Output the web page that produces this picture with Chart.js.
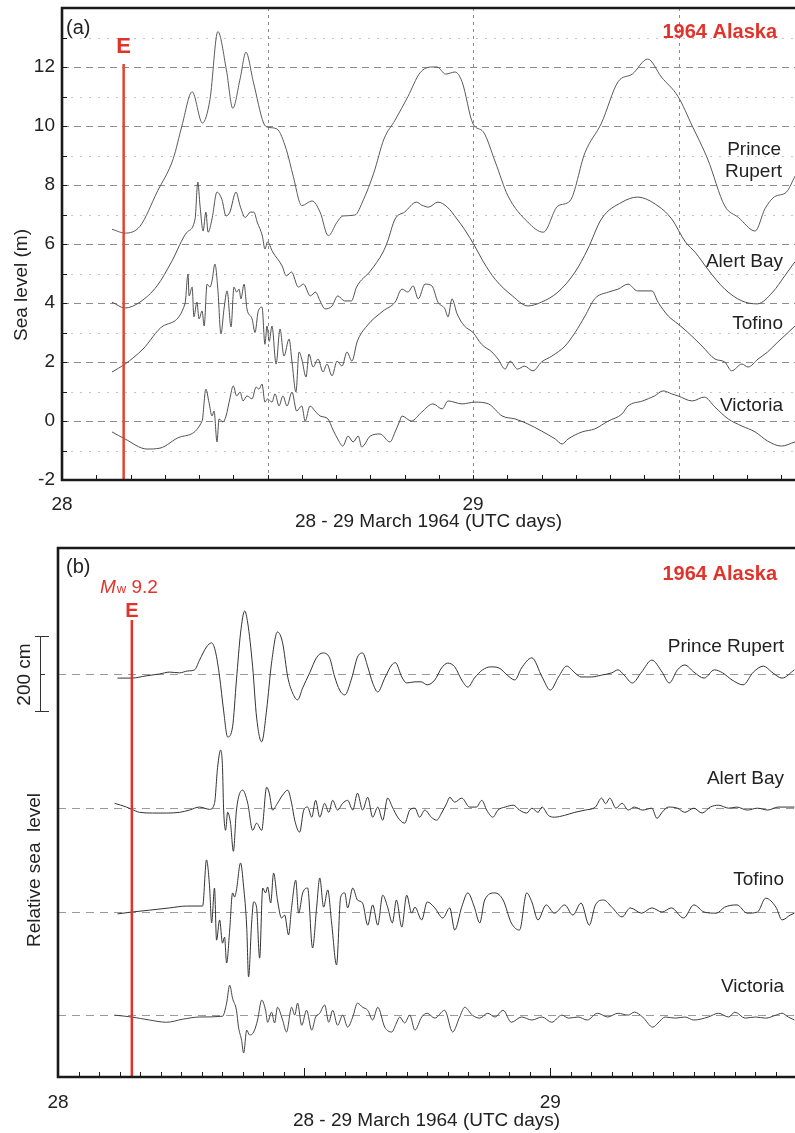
<!DOCTYPE html>
<html>
<head>
<meta charset="utf-8">
<title>1964 Alaska tsunami - BC tide gauges</title>
<script src="https://cdn.jsdelivr.net/npm/chart.js@4.4.1/dist/chart.umd.min.js"></script>
<style>
  body { margin: 0; background: #fff; overflow: hidden; }
  #panelA { position: absolute; left: 0; top: 0; }
  #panelB { position: absolute; left: 0; top: 540px; }
</style>
</head>
<body>
<canvas id="panelA" width="795" height="540"></canvas>
<canvas id="panelB" width="795" height="593"></canvas>
<script>
// time axis is in hours after 28 March 1964 00:00 UTC
const dayTickHours = [0, 24];
const dayTickLabels = ["28", "29"];
const eventHour = 3.6; // main shock, 03:36 UTC
const stationNames = ["Prince Rupert", "Alert Bay", "Tofino", "Victoria"];

// (a) observed sea level, metres
const prTimeA = [2.92, 3.68, 4.55, 5.55, 6.5, 7.0, 7.6, 8.2, 8.64, 9.1, 9.6, 9.97, 10.4, 10.74, 11.17, 11.77, 12.0, 12.55, 13.1, 13.5, 14.0, 14.6, 15.07, 15.55, 16.05, 16.4, 17.1, 17.6, 18.2, 18.8, 19.45, 20.2, 20.9, 21.6, 21.9, 22.4, 22.95, 23.36, 24.0, 24.6, 25.3, 26.04, 27.2, 28.1, 28.96, 29.66, 30.54, 31.5, 32.47, 33.3, 34.2, 35.0, 35.97, 36.8, 37.7, 38.7, 39.5, 40.47, 41.05, 41.6, 42.3, 42.8];
const prLevelA = [6.5, 6.37, 6.6, 7.76, 8.9, 10.0, 11.16, 10.1, 10.9, 13.2, 11.9, 10.6, 11.6, 12.5, 11.5, 10.1, 9.96, 9.9, 9.2, 8.3, 7.3, 7.46, 7.08, 6.28, 6.73, 6.95, 6.98, 7.5, 8.4, 9.56, 10.2, 11.0, 11.8, 12.0, 12.0, 11.76, 11.83, 11.5, 10.07, 9.8, 8.78, 7.63, 6.74, 6.4, 7.29, 7.46, 9.1, 10.1, 11.5, 11.76, 12.27, 11.66, 11.0, 10.0, 8.88, 7.29, 6.9, 6.44, 7.2, 7.6, 7.76, 8.3];

const abTimeA = [2.92, 3.68, 4.55, 5.55, 6.4, 7.3, 7.77, 7.93, 8.06, 8.24, 8.4, 8.53, 8.76, 9.05, 9.34, 9.58, 9.8, 10.16, 10.4, 10.7, 11.0, 11.2, 11.4, 11.7, 11.85, 12.0, 12.3, 12.85, 13.1, 13.4, 13.8, 14.1, 14.5, 14.8, 15.07, 15.36, 15.77, 16.1, 16.5, 16.9, 17.2, 18.0, 18.75, 19.0, 19.45, 20.0, 20.7, 21.0, 21.4, 21.95, 22.5, 23.06, 23.5, 24.1, 24.6, 25.3, 26.3, 27.2, 28.0, 28.96, 29.96, 30.7, 31.5, 32.7, 33.6, 34.8, 35.6, 36.4, 37.0, 37.7, 38.7, 39.7, 40.6, 41.5, 42.2, 42.8];
const abLevelA = [4.03, 3.83, 4.03, 4.58, 5.4, 6.4, 6.85, 8.1, 7.29, 6.44, 7.08, 6.4, 6.85, 7.76, 7.5, 6.95, 7.08, 7.76, 7.29, 6.9, 7.08, 7.08, 6.74, 6.27, 5.83, 6.07, 5.73, 5.26, 4.92, 5.05, 4.54, 4.64, 4.24, 4.37, 4.07, 3.8, 3.9, 4.24, 4.07, 4.07, 4.54, 5.08, 5.73, 6.07, 6.85, 7.08, 7.42, 7.32, 7.25, 7.42, 7.25, 6.85, 6.5, 5.93, 5.4, 4.8, 4.24, 3.9, 4.03, 4.37, 5.05, 5.83, 6.85, 7.42, 7.59, 7.29, 6.85, 6.07, 5.7, 5.15, 4.47, 4.07, 3.97, 4.37, 4.92, 5.4];

const toTimeA = [2.92, 3.68, 4.73, 5.9, 7.18, 7.36, 7.42, 7.6, 7.7, 7.88, 8.0, 8.18, 8.3, 8.47, 8.64, 8.76, 8.93, 9.1, 9.28, 9.46, 9.64, 9.87, 10.04, 10.2, 10.34, 10.45, 10.63, 10.8, 11.1, 11.27, 11.45, 11.68, 11.85, 11.97, 12.1, 12.26, 12.5, 12.73, 12.96, 13.26, 13.43, 13.66, 13.84, 14.0, 14.25, 14.42, 14.66, 14.95, 15.24, 15.47, 15.77, 16.06, 16.35, 16.64, 16.93, 17.23, 17.8, 18.75, 19.45, 19.85, 20.2, 20.5, 20.8, 21.2, 21.6, 21.95, 22.36, 22.54, 22.77, 23.07, 23.5, 24.0, 24.5, 25.1, 25.46, 25.87, 26.16, 26.6, 27.0, 27.5, 28.0, 28.6, 29.37, 29.96, 30.54, 31.1, 31.9, 32.47, 33.05, 33.6, 34.45, 34.8, 35.4, 35.97, 36.55, 37.37, 38.13, 38.7, 39.1, 39.7, 40.06, 40.64, 41.2, 41.8, 42.4, 42.8];
const toLevelA = [1.66, 1.93, 2.44, 3.22, 3.97, 4.98, 4.24, 4.54, 3.53, 4.03, 3.46, 3.73, 3.22, 4.64, 4.54, 4.75, 5.32, 4.47, 2.95, 3.8, 4.41, 3.19, 4.54, 4.37, 4.47, 4.14, 4.64, 3.8, 3.46, 3.0, 3.7, 3.86, 2.6, 3.22, 2.7, 3.22, 1.93, 3.12, 2.2, 2.78, 2.0, 0.98, 2.34, 2.1, 1.49, 2.27, 1.83, 2.1, 1.66, 1.93, 1.53, 2.03, 1.86, 2.34, 2.03, 2.68, 3.22, 3.73, 4.03, 4.47, 4.37, 4.58, 4.14, 4.64, 4.58, 4.03, 3.8, 3.53, 4.14, 3.63, 3.22, 3.0, 2.6, 2.34, 2.1, 1.76, 2.03, 1.76, 1.86, 1.7, 2.0, 2.2, 2.54, 3.0, 3.56, 4.14, 4.37, 4.47, 4.64, 4.41, 4.41, 4.03, 3.56, 3.29, 3.0, 2.54, 2.1, 2.0, 1.7, 1.93, 1.83, 2.1, 2.34, 2.68, 3.0, 3.22];

const viTimeA = [2.92, 3.68, 4.96, 5.72, 6.9, 8.18, 8.4, 8.58, 8.76, 8.88, 9.05, 9.17, 9.4, 9.58, 9.8, 10.0, 10.2, 10.4, 10.57, 10.8, 11.1, 11.33, 11.5, 11.68, 11.85, 12.0, 12.26, 12.44, 12.67, 12.9, 13.14, 13.43, 13.7, 14.0, 14.2, 14.48, 14.77, 15.07, 15.53, 15.8, 16.1, 16.4, 16.7, 17.0, 17.3, 17.5, 18.0, 18.57, 19.15, 19.45, 19.7, 19.85, 20.4, 21.0, 21.66, 22.2, 22.54, 23.36, 24.1, 24.9, 25.7, 26.45, 27.2, 28.0, 28.8, 29.2, 29.55, 30.37, 31.1, 31.9, 32.7, 33.05, 33.9, 34.6, 35.1, 35.6, 35.97, 36.8, 37.5, 38.13, 38.9, 39.7, 40.47, 41.2, 42.0, 42.8];
const viLevelA = [-0.37, -0.61, -0.95, -0.92, -0.54, 0.0, 1.08, 0.64, 0.17, 0.34, -0.71, 0.07, -0.03, 0.17, 0.75, 1.19, 0.85, 0.98, 0.68, 0.85, 0.75, 1.15, 1.08, 1.25, 0.64, 0.75, 0.64, 0.92, 0.51, 0.85, 0.51, 0.98, 0.34, 0.51, 0.0, 0.51, 0.34, 0.17, 0.07, -0.27, -0.61, -0.85, -0.51, -0.71, -0.51, -0.88, -0.51, -0.44, -0.71, -0.37, -0.03, 0.17, 0.0, 0.3, 0.58, 0.41, 0.68, 0.58, 0.64, 0.58, 0.17, 0.07, -0.1, -0.34, -0.61, -0.78, -0.61, -0.37, -0.27, 0.0, 0.24, 0.51, 0.68, 0.85, 1.02, 0.92, 0.85, 0.68, 0.81, 0.47, 0.07, -0.17, -0.37, -0.68, -0.85, -0.71];

// (b) de-tided records, cm, stacked on the offsets below
const offsetsB = [1075, 717, 440, 165];

const prTimeB = [2.9, 3.59, 4.3, 4.95, 5.44, 5.93, 6.32, 6.66, 6.9, 7.24, 7.49, 7.68, 7.88, 8.07, 8.27, 8.51, 8.7, 8.9, 9.1, 9.25, 9.49, 9.68, 9.93, 10.17, 10.41, 10.7, 10.95, 11.2, 11.44, 11.68, 11.93, 12.27, 12.6, 12.9, 13.24, 13.49, 13.73, 13.98, 14.32, 14.6, 14.85, 15.1, 15.34, 15.59, 15.93, 16.27, 16.45, 16.76, 17.0, 17.4, 17.7, 18.0, 18.37, 18.7, 19.0, 19.34, 19.68, 19.98, 20.3, 20.7, 21.1, 21.5, 21.9, 22.27, 22.6, 23.1, 23.6, 24.0, 24.4, 24.8, 25.2, 25.5, 26.0, 26.5, 27.0, 27.3, 27.6, 28.0, 28.45, 28.95, 29.45, 29.8, 30.2, 30.56, 31.0, 31.5, 32.0, 32.4, 32.86, 33.4, 33.9, 34.4, 34.8, 35.3, 35.9];
const prRelB = [-11, -11, -5, 0, 5, 3, 8, 11, 37, 72, 83, 59, -8, -96, -168, -141, -16, 109, 168, 136, 19, -115, -181, -96, 29, 112, 83, -8, -51, -69, -37, 3, 43, 56, 43, -8, -43, -56, -11, 45, 56, 19, -24, -48, -11, 24, 30, -8, -24, -21, -21, -29, -16, 16, 29, 19, -16, -35, -11, 11, 19, 16, -3, -16, 16, 43, -8, -43, -8, 21, 3, -8, -8, -3, 3, 11, -3, -24, 5, 37, 5, -24, 11, 24, 5, -11, 11, 3, -16, -29, 5, 21, 5, -11, 11];

const abTimeB = [2.76, 3.34, 3.59, 3.98, 4.61, 5.29, 5.93, 6.41, 6.9, 7.39, 7.63, 7.78, 7.93, 8.02, 8.07, 8.17, 8.27, 8.41, 8.55, 8.7, 9.0, 9.25, 9.49, 9.68, 9.93, 10.17, 10.3, 10.46, 10.7, 10.95, 11.2, 11.39, 11.54, 11.78, 11.98, 12.17, 12.37, 12.56, 12.76, 13.0, 13.2, 13.39, 13.63, 13.88, 14.12, 14.37, 14.6, 14.85, 15.1, 15.34, 15.59, 15.83, 16.07, 16.3, 16.56, 16.9, 17.15, 17.4, 17.63, 17.88, 18.2, 18.46, 18.7, 18.95, 19.1, 19.34, 19.68, 20.07, 20.4, 20.66, 20.9, 21.2, 21.45, 21.8, 22.2, 22.5, 22.85, 23.1, 23.4, 23.6, 23.9, 24.2, 24.7, 25.2, 25.7, 26.2, 26.5, 26.7, 26.9, 27.2, 27.5, 27.8, 28.1, 28.5, 28.95, 29.2, 29.45, 29.75, 30.2, 30.56, 31.0, 31.4, 31.8, 32.2, 32.7, 33.1, 33.6, 34.1, 34.6, 35.1, 35.6, 35.9];
const abRelB = [13, 3, -3, -11, -13, -13, -11, -5, 3, -3, 13, 109, 155, 109, 3, -59, -11, -40, -115, -5, 48, 13, -59, -40, -59, 56, 40, -5, 13, 35, 48, 13, -32, -64, -5, 3, -24, 21, -24, 13, -11, 21, -5, 13, 21, -5, 40, -5, 29, -24, 3, -32, 27, 3, -24, -40, -5, 0, -24, -5, -24, -32, -13, 13, 29, 16, 27, 3, 3, 21, -5, -24, -5, 3, 8, -5, -13, 0, -11, 3, -19, -24, -19, -11, -5, 3, 27, 12, 27, 0, 13, -5, 3, -5, 0, -27, -11, 3, 0, -11, 0, -13, 3, 8, 0, 3, -5, 0, -5, 3, 3, 3];

const toTimeB = [2.9, 3.59, 4.46, 5.44, 6.27, 7.05, 7.24, 7.39, 7.49, 7.63, 7.73, 7.88, 8.02, 8.12, 8.22, 8.37, 8.51, 8.61, 8.7, 8.9, 9.05, 9.2, 9.29, 9.44, 9.54, 9.68, 9.83, 9.98, 10.12, 10.22, 10.37, 10.51, 10.7, 10.9, 11.05, 11.24, 11.39, 11.59, 11.73, 11.93, 12.17, 12.41, 12.61, 12.76, 12.95, 13.15, 13.34, 13.58, 13.78, 13.98, 14.12, 14.37, 14.6, 14.85, 15.1, 15.34, 15.59, 15.83, 16.07, 16.3, 16.5, 16.76, 17.0, 17.24, 17.4, 17.73, 18.0, 18.37, 18.76, 19.1, 19.34, 19.68, 19.98, 20.3, 20.56, 20.8, 21.3, 21.7, 22.1, 22.5, 22.85, 23.1, 23.4, 23.8, 24.2, 24.7, 25.1, 25.5, 25.9, 26.2, 26.6, 27.0, 27.5, 27.9, 28.45, 28.95, 29.45, 29.9, 30.5, 31.0, 31.5, 32.1, 32.5, 33.1, 33.6, 34.1, 34.5, 35.0, 35.3, 35.7, 35.9];
const toRelB = [-5, 0, 5, 11, 16, 16, 139, 67, -29, 64, -75, -21, -83, -67, -136, -48, 51, 40, 59, 131, 67, -40, -173, -29, 27, 13, -123, 64, 51, 67, 24, 104, 32, -16, -8, -61, 13, 85, -3, 51, 64, -96, 13, 91, 13, 59, -29, -141, 40, 51, 11, 64, 32, 24, -35, 19, -35, 45, 13, -29, 32, -40, 45, -3, 13, -21, 27, 11, -16, 11, -48, 13, 51, 13, -29, 32, 51, 32, -29, -48, 51, 27, -21, 19, -3, 19, -8, 24, -35, 19, 32, 13, -13, 11, -3, 11, 0, 11, -16, 19, 0, -3, 13, 19, -3, 0, 37, 13, -21, -8, -3];

const viTimeB = [2.76, 3.59, 4.46, 5.29, 6.07, 6.9, 8.02, 8.22, 8.37, 8.51, 8.7, 8.8, 8.95, 9.05, 9.2, 9.34, 9.54, 9.73, 9.93, 10.12, 10.22, 10.41, 10.56, 10.7, 10.95, 11.14, 11.39, 11.54, 11.68, 11.88, 12.12, 12.37, 12.56, 12.76, 13.0, 13.2, 13.39, 13.63, 13.88, 14.12, 14.37, 14.6, 14.85, 15.1, 15.34, 15.59, 15.93, 16.27, 16.5, 16.66, 16.9, 17.15, 17.4, 17.73, 18.0, 18.37, 18.85, 19.24, 19.58, 19.83, 20.2, 20.56, 20.95, 21.3, 21.7, 22.1, 22.6, 23.1, 23.6, 24.07, 24.56, 24.9, 25.35, 25.8, 26.3, 26.8, 27.3, 27.8, 28.1, 28.5, 29.0, 29.25, 29.6, 30.1, 30.56, 31.0, 31.7, 32.2, 32.7, 33.0, 33.5, 34.0, 34.5, 35.0, 35.3, 35.6, 35.9];
const viRelB = [0, -5, -13, -19, -11, -5, -3, 32, 80, 45, 13, -32, -67, -101, -40, -53, -45, -13, 40, 13, -19, 8, -21, 21, -13, -45, 21, 0, 32, -27, 13, -40, -5, 5, 27, -19, 13, -27, 0, -32, -5, 32, 21, 13, -13, 21, -32, -45, -21, -5, -21, 0, -40, -5, 5, -8, 13, -45, -5, 21, 0, -8, 5, -5, 13, -19, -5, -13, -5, -19, 0, -8, -5, -13, 5, -5, 5, 0, 8, -5, -32, -21, -5, -8, -5, -13, -5, 5, -5, 8, -8, -5, -8, 0, 5, -5, -13];

const FONT = "'Liberation Sans', Arial, Helvetica, sans-serif";
const INK = "#222";
const RED = "#e2332a";
Chart.defaults.font.family = FONT;
Chart.defaults.font.size = 19;
Chart.defaults.color = INK;

function toPoints(times, values, offset) {
    return times.map((t, i) => ({ x: t, y: values[i] + (offset || 0) }));
}

function traceDataset(label, points, color) {
    return {
        label: label,
        data: points,
        borderColor: color,
        borderWidth: 1,
        pointRadius: 0,
        cubicInterpolationMode: "monotone",
        fill: false
    };
}

function dayTick(value) {
    const i = dayTickHours.indexOf(value);
    return i >= 0 ? dayTickLabels[i] : "";
}

// only the two day labels on the time axis
function dayTicksOnly(scale) {
    scale.ticks = dayTickHours.map(v => ({ value: v }));
}

// keep the plot area flush with the canvas edges
function fixXAxis(height) {
    return s => {
        s.height = height;
        s.paddingLeft = 0;
        s.paddingRight = 0;
    };
}

function text(ctx, str, x, y, font, color, align) {
    ctx.font = font;
    ctx.fillStyle = color || INK;
    ctx.textAlign = align || "left";
    ctx.textBaseline = "middle";
    ctx.fillText(str, x, y);
}

function drawFrame(ctx, a) {
    ctx.save();
    ctx.setLineDash([]);
    ctx.strokeStyle = "#1a1a1a";
    ctx.lineWidth = 2.6;
    ctx.beginPath();
    ctx.moveTo(a.right + 5, a.top);
    ctx.lineTo(a.left, a.top);
    ctx.lineTo(a.left, a.bottom);
    ctx.lineTo(a.right + 5, a.bottom);
    ctx.stroke();
    ctx.restore();
}

// ---------- panel (a) ----------
const panelAExtras = {
    id: "panelAExtras",
    beforeDatasetsDraw(chart) {
        const { ctx, chartArea: a, scales: { x, y } } = chart;
        ctx.save();
        ctx.lineWidth = 1;
        for (let v = -1; v <= 13; v++) {
            const even = v % 2 === 0;
            const py = Math.round(y.getPixelForValue(v)) + 0.5;
            ctx.setLineDash(even ? [7, 5] : [2, 7]);
            ctx.strokeStyle = even ? "#8c8c8c" : "#c4c4c4";
            ctx.beginPath();
            ctx.moveTo(a.left, py);
            ctx.lineTo(a.right, py);
            ctx.stroke();
        }
        ctx.setLineDash([3, 4]);
        ctx.strokeStyle = "#8c8c8c";
        [12, 24, 36].forEach(h => {
            const px = Math.round(x.getPixelForValue(h)) + 0.5;
            ctx.beginPath();
            ctx.moveTo(px, a.top);
            ctx.lineTo(px, a.bottom);
            ctx.stroke();
        });
        ctx.restore();
    },
    afterDatasetsDraw(chart) {
        const { ctx, chartArea: a, scales: { x, y } } = chart;
        ctx.save();
        // event line
        const ex = x.getPixelForValue(eventHour);
        ctx.strokeStyle = "#e2452f";
        ctx.lineWidth = 2.5;
        ctx.beginPath();
        ctx.moveTo(ex, y.getPixelForValue(12.1));
        ctx.lineTo(ex, a.bottom);
        ctx.stroke();

        drawFrame(ctx, a);

        // inward ticks
        ctx.strokeStyle = "#1a1a1a";
        ctx.lineWidth = 1;
        for (let h = 2; h <= 42; h += 2) {
            const px = Math.round(x.getPixelForValue(h)) + 0.5;
            ctx.beginPath();
            ctx.moveTo(px, a.bottom);
            ctx.lineTo(px, a.bottom - 5);
            ctx.stroke();
        }
        for (let v = -1; v <= 13; v++) {
            const py = Math.round(y.getPixelForValue(v)) + 0.5;
            ctx.beginPath();
            ctx.moveTo(a.left, py);
            ctx.lineTo(a.left + 5, py);
            ctx.stroke();
        }

        text(ctx, "E", ex, 47, "bold 22px " + FONT, RED, "center");
        text(ctx, "(a)", 66, 28, "20px " + FONT);
        text(ctx, "1964 Alaska", 777, 32, "bold 20px " + FONT, RED, "right");
        text(ctx, "Prince", 781, 150, "19px " + FONT, INK, "right");
        text(ctx, "Rupert", 782, 172, "19px " + FONT, INK, "right");
        text(ctx, stationNames[1], 783, 262, "19px " + FONT, INK, "right");
        text(ctx, stationNames[2], 783, 324, "19px " + FONT, INK, "right");
        text(ctx, stationNames[3], 783, 406, "19px " + FONT, INK, "right");

        ctx.translate(22, 285);
        ctx.rotate(-Math.PI / 2);
        text(ctx, "Sea level (m)", 0, 0, "19px " + FONT, INK, "center");
        ctx.restore();
    }
};

new Chart(document.getElementById("panelA"), {
    type: "line",
    data: {
        datasets: [
            traceDataset(stationNames[0], toPoints(prTimeA, prLevelA), "#5a5a5a"),
            traceDataset(stationNames[1], toPoints(abTimeA, abLevelA), "#505050"),
            traceDataset(stationNames[2], toPoints(toTimeA, toLevelA), "#505050"),
            traceDataset(stationNames[3], toPoints(viTimeA, viLevelA), "#505050")
        ]
    },
    options: {
        responsive: false,
        animation: false,
        devicePixelRatio: 1,
        layout: { padding: { top: 8, left: 0, right: 0, bottom: 0 } },
        plugins: { legend: { display: false }, tooltip: { enabled: false } },
        scales: {
            x: {
                type: "linear",
                min: 0,
                max: 42.8,
                grid: { display: false, drawTicks: false },
                border: { display: false },
                ticks: { autoSkip: false, maxRotation: 0, padding: 13, callback: dayTick },
                afterBuildTicks: dayTicksOnly,
                title: { display: true, text: "28 - 29 March 1964 (UTC days)", padding: { top: 0, bottom: 7 } },
                afterFit: fixXAxis(60)
            },
            y: {
                min: -2,
                max: 14,
                grid: { display: false, drawTicks: false },
                border: { display: false },
                ticks: { stepSize: 2, padding: 7, callback: v => (v <= 12 ? String(v) : "") },
                afterFit: s => { s.width = 62; s.paddingTop = 0; s.paddingBottom = 0; }
            }
        }
    },
    plugins: [panelAExtras]
});

// ---------- panel (b) ----------
const panelBExtras = {
    id: "panelBExtras",
    beforeDatasetsDraw(chart) {
        const { ctx, chartArea: a, scales: { y } } = chart;
        ctx.save();
        ctx.setLineDash([8, 6]);
        ctx.strokeStyle = "#9a9a9a";
        ctx.lineWidth = 1;
        offsetsB.forEach(off => {
            const py = Math.round(y.getPixelForValue(off)) + 0.5;
            ctx.beginPath();
            ctx.moveTo(a.left, py);
            ctx.lineTo(a.right, py);
            ctx.stroke();
        });
        ctx.restore();
    },
    afterDatasetsDraw(chart) {
        const { ctx, chartArea: a, scales: { x, y } } = chart;
        ctx.save();
        const ex = x.getPixelForValue(eventHour);
        ctx.strokeStyle = RED;
        ctx.lineWidth = 2.5;
        ctx.beginPath();
        ctx.moveTo(ex, y.getPixelForValue(1219));
        ctx.lineTo(ex, a.bottom);
        ctx.stroke();

        drawFrame(ctx, a);

        ctx.strokeStyle = "#1a1a1a";
        ctx.lineWidth = 1;
        for (let h = 1; h <= 35; h++) {
            const px = Math.round(x.getPixelForValue(h)) + 0.5;
            const len = h % 12 === 0 ? 9 : 5;
            ctx.beginPath();
            ctx.moveTo(px, a.bottom);
            ctx.lineTo(px, a.bottom - len);
            ctx.stroke();
        }

        // 200 cm scale bar on the Prince Rupert baseline
        const base = offsetsB[0];
        const top = Math.round(y.getPixelForValue(base + 100)) + 0.5;
        const mid = Math.round(y.getPixelForValue(base)) + 0.5;
        const bot = Math.round(y.getPixelForValue(base - 100)) + 0.5;
        ctx.strokeStyle = "#333";
        ctx.beginPath();
        ctx.moveTo(40.5, top); ctx.lineTo(40.5, bot);
        ctx.moveTo(35, top); ctx.lineTo(49, top);
        ctx.moveTo(35, bot); ctx.lineTo(49, bot);
        ctx.moveTo(40.5, mid); ctx.lineTo(45, mid);
        ctx.stroke();

        text(ctx, "(b)", 66, 27, "20px " + FONT);
        text(ctx, "1964 Alaska", 777, 34, "bold 20px " + FONT, RED, "right");

        // Mw 9.2 label
        ctx.textBaseline = "alphabetic";
        ctx.textAlign = "left";
        ctx.fillStyle = RED;
        ctx.font = "italic 19px " + FONT;
        ctx.fillText("M", 100, 53);
        let cx = 100 + ctx.measureText("M").width + 1;
        ctx.font = "13px " + FONT;
        ctx.fillText("w", cx, 53);
        cx += ctx.measureText("w").width;
        ctx.font = "19px " + FONT;
        ctx.fillText(" 9.2", cx, 53);
        ctx.font = "bold 20px " + FONT;
        ctx.textAlign = "center";
        ctx.fillText("E", ex, 77);

        text(ctx, stationNames[0], 784, 107, "19px " + FONT, INK, "right");
        text(ctx, stationNames[1], 784, 239, "19px " + FONT, INK, "right");
        text(ctx, stationNames[2], 784, 340, "19px " + FONT, INK, "right");
        text(ctx, stationNames[3], 784, 447, "19px " + FONT, INK, "right");

        ctx.save();
        ctx.translate(25, mid);
        ctx.rotate(-Math.PI / 2);
        text(ctx, "200 cm", 0, 0, "19px " + FONT, INK, "center");
        ctx.restore();

        ctx.translate(35, 330);
        ctx.rotate(-Math.PI / 2);
        text(ctx, "Relative sea  level", 0, 0, "19px " + FONT, INK, "center");
        ctx.restore();
    }
};

new Chart(document.getElementById("panelB"), {
    type: "line",
    data: {
        datasets: [
            traceDataset(stationNames[0], toPoints(prTimeB, prRelB, offsetsB[0]), "#333"),
            traceDataset(stationNames[1], toPoints(abTimeB, abRelB, offsetsB[1]), "#333"),
            traceDataset(stationNames[2], toPoints(toTimeB, toRelB, offsetsB[2]), "#333"),
            traceDataset(stationNames[3], toPoints(viTimeB, viRelB, offsetsB[3]), "#444")
        ]
    },
    options: {
        responsive: false,
        animation: false,
        devicePixelRatio: 1,
        layout: { padding: { top: 8, left: 58, right: 0, bottom: 0 } },
        plugins: { legend: { display: false }, tooltip: { enabled: false } },
        scales: {
            x: {
                type: "linear",
                min: 0,
                max: 35.93,
                grid: { display: false, drawTicks: false },
                border: { display: false },
                ticks: { autoSkip: false, maxRotation: 0, padding: 14, callback: dayTick },
                afterBuildTicks: dayTicksOnly,
                title: { display: true, text: "28 - 29 March 1964 (UTC days)", padding: { top: 0, bottom: 1 } },
                afterFit: fixXAxis(56)
            },
            y: {
                display: false,
                min: 0,
                max: 1411
            }
        }
    },
    plugins: [panelBExtras]
});
</script>
</body>
</html>
